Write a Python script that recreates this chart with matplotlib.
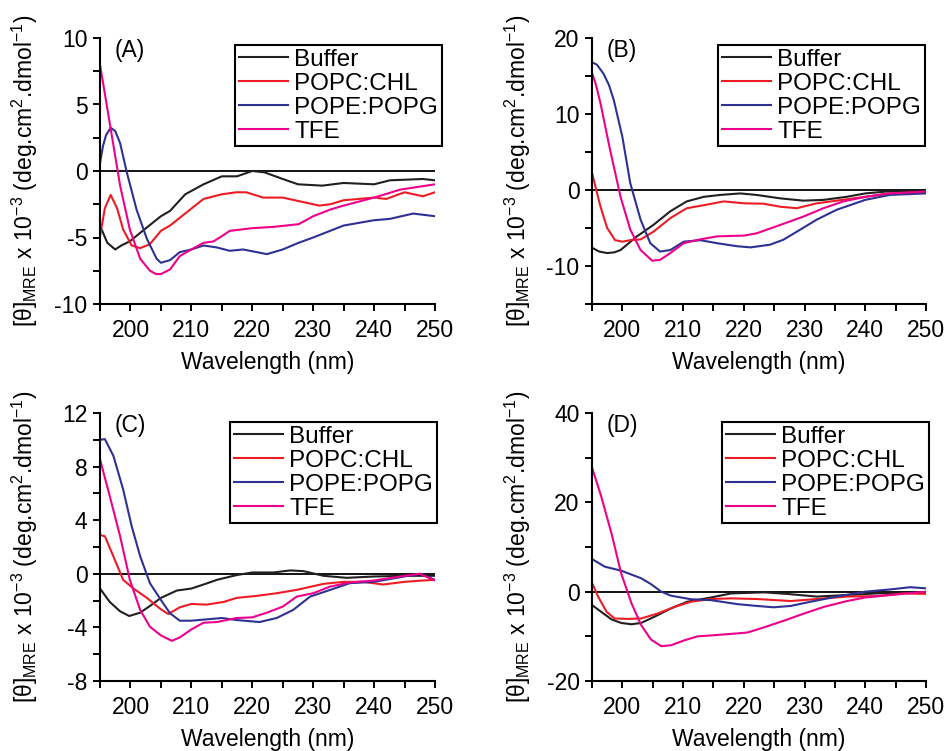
import matplotlib
matplotlib.use('Agg')
import matplotlib.pyplot as plt
from matplotlib.ticker import MultipleLocator

plt.rcParams['font.family'] = ['Liberation Sans', 'DejaVu Sans']
plt.rcParams['mathtext.fontset'] = 'custom'
plt.rcParams['mathtext.rm'] = 'Liberation Sans'
plt.rcParams['mathtext.it'] = 'Liberation Sans:italic'
plt.rcParams['mathtext.bf'] = 'Liberation Sans:bold'
plt.rcParams['axes.unicode_minus'] = False

# Подписи серий и цвета
labels = ['Buffer', 'POPC:CHL', 'POPE:POPG', 'TFE']
colors = ['#231f20', '#ed1c24', '#2e3192', '#ec008c']
panel_names = ['(A)', '(B)', '(C)', '(D)']

# --- Панель A ---
a_buffer_wl = [195, 196.2, 197.5, 198.5, 199.4, 200, 202, 205, 206.5, 209, 212, 215, 217.5, 220, 222, 225, 227.5, 231.5, 235, 240, 242.6, 248, 250]
a_buffer = [-4.1, -5.4, -5.9, -5.6, -5.4, -5.25, -4.5, -3.4, -3.0, -1.75, -1.0, -0.4, -0.4, 0.0, -0.1, -0.6, -1.0, -1.1, -0.9, -1.0, -0.7, -0.6, -0.7]
a_popc_wl = [195, 195.8, 196.75, 197.8, 198.8, 200.2, 201.6, 203.2, 205, 206.5, 209.8, 212, 215, 217.4, 219, 221.8, 225, 227.5, 231, 232.8, 235, 240, 242, 245, 248, 250]
a_popc = [-4.9, -2.8, -1.8, -2.8, -4.4, -5.6, -5.8, -5.5, -4.5, -4.1, -2.9, -2.1, -1.75, -1.6, -1.6, -2.0, -2.0, -2.25, -2.6, -2.5, -2.2, -2.0, -2.1, -1.6, -1.9, -1.6]
a_pope_wl = [195, 195.5, 196, 196.75, 197.5, 198.3, 199.4, 201, 202.7, 204.3, 205, 206.5, 208.1, 210, 212, 214.2, 216.3, 218.5, 222.4, 225, 227.6, 230, 235, 240, 242.6, 246.4, 250]
a_pope = [0.6, 1.9, 2.7, 3.25, 3.0, 2.1, -0.1, -2.9, -5.1, -6.6, -6.9, -6.7, -6.1, -5.9, -5.6, -5.75, -6.0, -5.9, -6.25, -5.9, -5.4, -5.0, -4.1, -3.7, -3.6, -3.2, -3.4]
a_tfe_wl = [195, 196.6, 198.3, 199.9, 201.6, 203.2, 204.2, 205, 206.5, 208.1, 210, 212, 213.6, 215, 216.3, 220, 223.5, 227.6, 230, 232.8, 235, 240, 244.3, 250]
a_tfe = [8.0, 3.6, -1.1, -4.4, -6.6, -7.5, -7.75, -7.75, -7.4, -6.4, -5.9, -5.4, -5.3, -4.9, -4.5, -4.3, -4.2, -4.0, -3.4, -2.9, -2.6, -2.0, -1.4, -1.0]

# --- Панель B ---
b_buffer_wl = [195, 196.2, 197.5, 198.7, 199.7, 202.4, 205.1, 207.9, 210.6, 213.4, 216.1, 219.4, 222.1, 226, 229.8, 233.1, 236.9, 240, 243.5, 250]
b_buffer = [-7.6, -8.1, -8.3, -8.2, -7.9, -6.1, -4.6, -2.8, -1.5, -0.9, -0.65, -0.45, -0.65, -1.1, -1.4, -1.3, -0.9, -0.45, -0.2, -0.2]
b_popc_wl = [195, 195.7, 196.4, 197.5, 198.8, 200, 201.3, 203, 205.1, 207.9, 210.6, 213.4, 216.7, 220, 223.2, 226, 228.7, 232, 235.3, 240, 244, 250]
b_popc = [2.3, 0.0, -2.2, -5.0, -6.6, -6.8, -6.6, -6.5, -5.5, -3.7, -2.4, -2.0, -1.5, -1.75, -1.8, -2.2, -2.4, -1.75, -1.4, -0.9, -0.45, -0.3]
b_pope_wl = [195, 195.8, 196.9, 197.8, 198.6, 200, 201.3, 203, 204.6, 206.2, 207.9, 210.1, 212.8, 215.6, 218.9, 221.1, 224.3, 226.5, 228.7, 232, 235.3, 240, 244, 250]
b_pope = [16.8, 16.5, 15.3, 13.8, 11.8, 7.0, 0.9, -3.9, -7.0, -8.1, -7.9, -6.8, -6.6, -7.0, -7.4, -7.55, -7.2, -6.55, -5.5, -3.9, -2.6, -1.3, -0.65, -0.45]
b_tfe_wl = [195, 195.6, 196.4, 198, 199.7, 201.3, 203, 204.9, 206.2, 207.9, 210.1, 212.8, 215.6, 220, 222.1, 226, 229.8, 233.1, 236.4, 240, 244, 250]
b_tfe = [15.4, 14.0, 11.4, 5.2, -0.9, -5.2, -7.9, -9.3, -9.2, -8.3, -7.0, -6.5, -6.1, -6.0, -5.7, -4.6, -3.5, -2.4, -1.5, -0.9, -0.45, -0.2]

# --- Панель C ---
c_buffer_wl = [195, 196.6, 198.3, 199.8, 201.6, 203.2, 205, 207.6, 210, 212, 214.2, 217.4, 220, 223.5, 226.2, 228.4, 231.7, 235.5, 240, 245, 250]
c_buffer = [-1.1, -2.1, -2.8, -3.15, -2.9, -2.4, -1.8, -1.25, -1.1, -0.8, -0.45, -0.1, 0.1, 0.1, 0.25, 0.2, -0.15, -0.3, -0.2, -0.15, -0.15]
c_popc_wl = [195, 195.8, 197.2, 198.8, 200.5, 202.7, 205, 206.2, 208.1, 210, 212.5, 215.3, 217.4, 220.7, 224, 227.3, 231.7, 235, 238.2, 241.5, 245, 248, 250]
c_popc = [2.9, 2.8, 1.3, -0.45, -1.1, -1.8, -2.65, -3.0, -2.5, -2.25, -2.3, -2.1, -1.8, -1.65, -1.45, -1.2, -0.75, -0.6, -0.6, -0.8, -0.6, -0.5, -0.45]
c_pope_wl = [195, 195.8, 197.2, 198.8, 200.2, 201.6, 203.2, 205, 206.5, 208.1, 210, 212.5, 215, 217.4, 221.2, 224, 226.7, 229.5, 232.8, 236, 240, 243.7, 247.5, 250]
c_pope = [10.0, 10.05, 8.8, 6.3, 3.55, 1.3, -0.7, -1.95, -2.95, -3.5, -3.5, -3.4, -3.3, -3.45, -3.6, -3.3, -2.7, -1.7, -1.2, -0.7, -0.6, -0.3, 0.0, -0.45]
c_tfe_wl = [195, 196.6, 198.3, 199.9, 201.6, 203.2, 205, 206.8, 208.1, 210, 212, 214.2, 217.4, 220, 222.4, 225, 227.3, 230, 232.8, 236, 240, 244.3, 247.5, 250]
c_tfe = [8.55, 5.8, 2.8, -0.45, -2.7, -3.95, -4.6, -5.0, -4.75, -4.15, -3.65, -3.6, -3.3, -3.25, -2.9, -2.45, -1.7, -1.45, -0.95, -0.65, -0.5, -0.2, 0.0, -0.5]

# --- Панель D ---
d_buffer_wl = [195, 196.5, 198.2, 199.8, 201.5, 203.1, 205.3, 208, 210.7, 214.6, 217.9, 223.3, 227.1, 232, 237, 241.9, 250]
d_buffer = [-3.0, -4.5, -6.2, -7.0, -7.3, -7.0, -5.6, -3.75, -2.25, -1.3, -0.4, -0.15, -0.5, -1.1, -0.75, -0.4, -0.2]
d_popc_wl = [195, 196, 197.4, 198.7, 200.9, 203.1, 205.8, 208.6, 211.3, 214.6, 217.9, 222.2, 227.7, 232, 237, 241.9, 246.3, 250]
d_popc = [2.0, -1.1, -4.5, -6.0, -6.1, -6.0, -4.9, -3.4, -2.25, -1.65, -1.5, -1.65, -2.1, -1.65, -1.1, -1.0, -0.4, -0.5]
d_pope_wl = [195, 197.1, 199.8, 203.1, 204.7, 206.4, 208, 211.3, 214.6, 219, 222.2, 224.9, 227.7, 231, 235.3, 240, 244.1, 247.4, 250]
d_pope = [7.3, 5.6, 4.7, 3.0, 1.7, 0.0, -0.9, -1.7, -1.9, -2.8, -3.2, -3.5, -3.2, -2.25, -1.1, 0.0, 0.5, 1.0, 0.75]
d_tfe_wl = [195, 196.5, 198.2, 199.8, 201.5, 203.1, 204.7, 206.4, 208, 210.2, 212.4, 215.1, 218.4, 220.6, 223.3, 226.6, 229.9, 233.2, 237, 240, 244.1, 250]
d_tfe = [27.8, 21.4, 13.1, 4.1, -2.6, -7.5, -10.7, -12.2, -12.0, -10.9, -10.0, -9.75, -9.4, -9.15, -8.0, -6.5, -4.9, -3.4, -2.1, -1.3, -0.75, 0.0]

panels = [
    ([a_buffer_wl, a_popc_wl, a_pope_wl, a_tfe_wl], [a_buffer, a_popc, a_pope, a_tfe]),
    ([b_buffer_wl, b_popc_wl, b_pope_wl, b_tfe_wl], [b_buffer, b_popc, b_pope, b_tfe]),
    ([c_buffer_wl, c_popc_wl, c_pope_wl, c_tfe_wl], [c_buffer, c_popc, c_pope, c_tfe]),
    ([d_buffer_wl, d_popc_wl, d_pope_wl, d_tfe_wl], [d_buffer, d_popc, d_pope, d_tfe]),
]
ylims = [(-10, 10), (-15, 20), (-8, 12), (-20, 40)]
ymajor = [5, 10, 4, 20]
yminor = [2.5, 5, 2, 10]

# Расположение осей (пиксели -> доли фигуры)
W, H = 949, 751
boxes = [(100, 38, 435, 304), (592, 38, 926, 304), (100, 413, 435, 681), (592, 413, 926, 681)]
legend_corners = [(442, 45), (925, 45), (437, 422), (929, 422)]

ylabel = r'[θ]$_{\mathregular{MRE}}$ x 10$^{\mathregular{-3}}$ (deg.cm$^{\mathregular{2}}$.dmol$^{\mathregular{-1}}$)'
fs = 16.5

fig = plt.figure(figsize=(W / 100, H / 100), dpi=100)
for i in range(4):
    x0, y0, x1, y1 = boxes[i]
    ax = fig.add_axes([x0 / W, 1 - y1 / H, (x1 - x0) / W, (y1 - y0) / H])
    wls, vals = panels[i]
    for wl, v, lab, col in zip(wls, vals, labels, colors):
        ax.plot(wl, v, color=col, lw=1.5, label=lab)
    ax.axhline(0, color='k', lw=1.3, zorder=1)
    ax.set_xlim(195, 250)
    ax.set_ylim(*ylims[i])
    ax.xaxis.set_major_locator(MultipleLocator(10))
    ax.xaxis.set_minor_locator(MultipleLocator(5))
    ax.yaxis.set_major_locator(MultipleLocator(ymajor[i]))
    ax.yaxis.set_minor_locator(MultipleLocator(yminor[i]))
    ax.set_xticks([200, 210, 220, 230, 240, 250])
    for s in ['top', 'right']:
        ax.spines[s].set_visible(False)
    for s in ['left', 'bottom']:
        ax.spines[s].set_linewidth(1.5)
    ax.tick_params(which='both', direction='out', length=5, width=1.4, labelsize=fs)
    ax.tick_params(axis='x', pad=6)
    ax.tick_params(axis='y', pad=4)
    ax.set_xlabel('Wavelength (nm)', fontsize=fs, labelpad=6)
    ax.set_ylabel(ylabel, fontsize=fs)
    ax.yaxis.set_label_coords(-0.178, 0.5)
    ax.text(0.045, 0.995, panel_names[i], transform=ax.transAxes, fontsize=fs, va='top', ha='left')
    lx, ly = legend_corners[i]
    leg = ax.legend(loc='upper right', bbox_to_anchor=(lx / W, 1 - ly / H), bbox_transform=fig.transFigure,
                    fontsize=17.5, frameon=True, fancybox=False, borderaxespad=0, borderpad=0.15,
                    labelspacing=0.08, handlelength=2.05, handletextpad=0.25)
    leg.get_frame().set_edgecolor('k')
    leg.get_frame().set_linewidth(1.5)
    leg.get_frame().set_alpha(None)

fig.savefig('out.png', dpi=100)
plt.close()
